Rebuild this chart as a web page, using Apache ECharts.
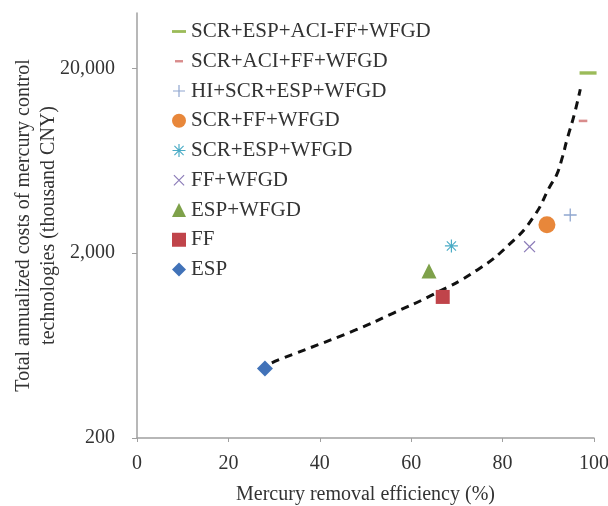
<!DOCTYPE html>
<html>
<head>
<meta charset="utf-8">
<script src="https://cdn.jsdelivr.net/npm/echarts@6/dist/echarts.min.js"></script>
<style>
  html, body { margin: 0; padding: 0; background: #fff; }
  #chart { width: 608px; height: 506px; }
</style>
</head>
<body>
<div id="chart"></div>
<script>
// technologies, in legend order
const techNames = ['SCR+ESP+ACI-FF+WFGD', 'SCR+ACI+FF+WFGD', 'HI+SCR+ESP+WFGD', 'SCR+FF+WFGD',
  'SCR+ESP+WFGD', 'FF+WFGD', 'ESP+WFGD', 'FF', 'ESP'];
const removalEff = [98.7, 97.6, 94.8, 89.7, 68.8, 85.9, 63.9, 66.9, 28.0];
const annualCost = [18900, 10400, 3220, 2850, 2190, 2170, 1600, 1160, 475];

// dashed trend curve
const trendEff = [29.5, 31.3, 47.7, 56.0, 64.5, 74.4, 81.7, 86.8, 90.5, 91.8, 93.1, 94.0, 95.7, 97.0];
const trendCost = [510, 533, 766, 946, 1186, 1620, 2260, 3150, 4670, 5290, 6640, 8080, 11320, 15420];

const xTicks = [0, 20, 40, 60, 80, 100];
const yTickValues = [200, 2000, 20000];

// y axis is log10, counted in decades from 200
const yBase = 200;
const toDec = v => Math.log10(v / yBase);

const box = 'M0,0L0,0M14,14L14,14';
const symbols = [
  'path://' + box + 'M0,5.6h14v2.8h-14z',
  'path://' + box + 'M3,5.8h8v2.4h-8z',
  'path://' + box + 'M6.4,1h1.2v12h-1.2zM1,6.4h12v1.2h-12z',
  'circle',
  'path://' + box + 'M6.4,0.5h1.2v13h-1.2zM0.5,6.4h13v1.2h-13zM2,2.8L2.8,2L12,11.2L11.2,12zM11.2,2L12,2.8L2.8,12L2,11.2z',
  'path://' + box + 'M1.5,2.3L2.3,1.5L12.5,11.7L11.7,12.5zM11.7,1.5L12.5,2.3L2.3,12.5L1.5,11.7z',
  'triangle',
  'rect',
  'diamond'
];
const sizes = [17, 15, 15, 17, 14, 15, 15, 14, 16];
const colors = ['#9bbb59', '#d98c8c', '#8fa6cf', '#e8873a', '#4bacc6', '#8b7bb8', '#7ea14a', '#c0444a', '#4172b8'];

const serif = 'Liberation Serif';

const series = techNames.map((name, i) => ({
  name: name,
  type: 'scatter',
  symbol: symbols[i],
  symbolSize: sizes[i],
  itemStyle: { color: colors[i], opacity: 1 },
  data: [[removalEff[i], toDec(annualCost[i])]]
}));

series.push({
  name: 'trend',
  type: 'line',
  smooth: 0.5,
  symbol: 'none',
  lineStyle: { color: '#111', width: 3, type: [8, 6] },
  data: trendEff.map((x, i) => [x, toDec(trendCost[i])]),
  z: 1
});

const option = {
  animation: false,
  backgroundColor: '#fff',
  grid: { left: 137, right: 14, top: 13, bottom: 68, containLabel: false, outerBoundsMode: 'none' },
  legend: {
    data: techNames,
    orient: 'vertical',
    left: 167,
    top: 16,
    itemWidth: 14,
    itemHeight: 14,
    itemGap: 8.75,
    textStyle: { fontFamily: serif, fontSize: 21, color: '#333', lineHeight: 20 }
  },
  xAxis: {
    type: 'value',
    min: 0,
    max: 100,
    interval: 20,
    name: 'Mercury removal efficiency (%)',
    nameLocation: 'middle',
    nameGap: 47,
    nameMoveOverlap: false,
    nameTextStyle: { fontFamily: serif, fontSize: 20, color: '#333' },
    axisLine: { lineStyle: { color: '#a0a0a0', width: 1.5 } },
    axisTick: { show: true, length: 4, lineStyle: { color: '#a0a0a0' } },
    axisLabel: {
      fontFamily: serif, fontSize: 20, color: '#333', margin: 16,
      customValues: xTicks
    },
    splitLine: { show: false }
  },
  yAxis: {
    type: 'value',
    min: 0,
    max: 2.3,
    interval: 1,
    name: 'Total annualized costs of mercury control\ntechnologies (thousand CNY)',
    nameLocation: 'middle',
    nameGap: 76,
    nameMoveOverlap: false,
    nameTextStyle: { fontFamily: serif, fontSize: 20, color: '#333', lineHeight: 25 },
    axisLine: { show: true, lineStyle: { color: '#a0a0a0', width: 1.5 } },
    axisTick: { show: true, length: 5, lineStyle: { color: '#a0a0a0' }, customValues: yTickValues.map(toDec) },
    axisLabel: {
      fontFamily: serif, fontSize: 20, color: '#333', margin: 22,
      customValues: yTickValues.map(toDec),
      formatter: v => Math.round(yBase * Math.pow(10, v)).toLocaleString('en-US')
    },
    splitLine: { show: false }
  },
  series: series
};

const chart = echarts.init(document.getElementById('chart'));
chart.setOption(option);
</script>
</body>
</html>
